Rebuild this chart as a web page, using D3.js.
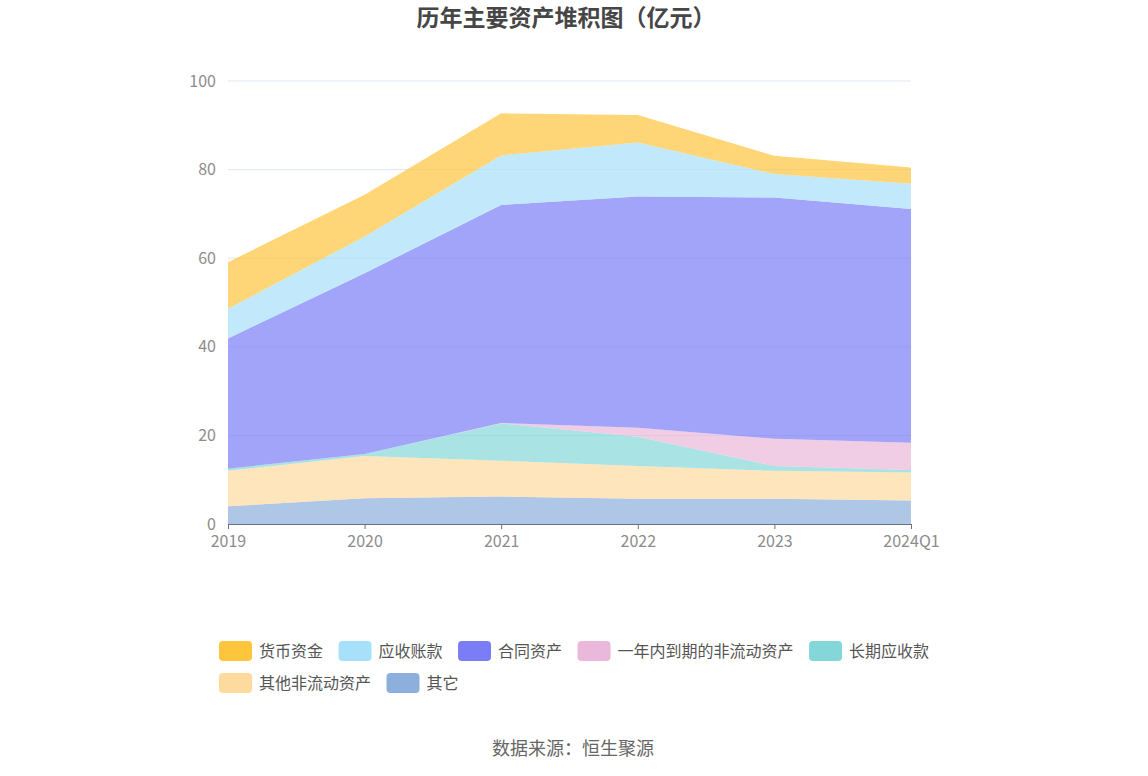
<!DOCTYPE html>
<html><head><meta charset="utf-8">
<script src="https://cdn.jsdelivr.net/npm/d3@7/dist/d3.min.js"></script>
<style>
body{margin:0;background:#fff;font-family:"Noto Sans CJK SC","Noto Sans",sans-serif;}
</style></head>
<body><svg id="c" width="1148" height="776"></svg>
<script>
const categories = ["2019","2020","2021","2022","2023","2024Q1"];
const seriesNames = ["货币资金","应收账款","合同资产","一年内到期的非流动资产","长期应收款","其他非流动资产","其它"];
const huobi   = [10.5, 9.4, 9.5, 6.2, 4.1, 3.7];
const yingshou= [6.7, 8.3, 11.2, 12.2, 5.3, 5.7];
const hetong  = [29.4, 40.8, 49.2, 52.2, 54.45, 52.75];
const yinian  = [0, 0, 0.1, 2.0, 6.15, 6.15];
const changqi = [0.5, 0.45, 8.4, 6.6, 1.1, 0.6];
const qitaFei = [8.0, 9.55, 8.1, 7.4, 6.3, 6.3];
const qita    = [4.0, 5.8, 6.2, 5.7, 5.7, 5.3];
const yTicks = [0,20,40,60,80,100];
const colors = ["#FFC53D","#A6E0FA","#7B7DF6","#EAB8DA","#84D7D9","#FFDA9E","#8DAFDC"];

const seriesValues = [huobi, yingshou, hetong, yinian, changqi, qitaFei, qita];
const rows = categories.map((c,i)=>{const r={cat:c}; seriesNames.forEach((n,j)=>r[n]=seriesValues[j][i]); return r;});
const stackKeys = seriesNames.slice().reverse();
const stacked = d3.stack().keys(stackKeys)(rows);

const svg = d3.select("#c");
const x = d3.scalePoint().domain(categories).range([228, 911]);
const y = d3.scaleLinear().domain([0,100]).range([524, 81]);

svg.append("g").selectAll("line").data(yTicks.filter(t=>t>0)).join("line")
  .attr("x1",228).attr("x2",911).attr("y1",d=>y(d)).attr("y2",d=>y(d))
  .attr("stroke","#E0E6F1").attr("stroke-width",1);

const area = d3.area().x(d=>x(d.data.cat)).y0(d=>y(d[0])).y1(d=>y(d[1]));
svg.append("g").selectAll("path").data(stacked).join("path")
  .attr("d",area)
  .attr("fill",d=>colors[seriesNames.indexOf(d.key)])
  .attr("fill-opacity",0.7);

const ya = svg.append("g").attr("transform","translate(228,0)")
  .call(d3.axisLeft(y).tickValues(yTicks).tickSize(0).tickPadding(12));
ya.select(".domain").remove();
ya.selectAll("text").attr("font-size",16).attr("fill","#8C8C8C").attr("font-family","'Noto Sans CJK SC',sans-serif");

const xa = svg.append("g").attr("transform","translate(0,524)")
  .call(d3.axisBottom(x).tickSize(5).tickPadding(7));
xa.select(".domain").attr("stroke","#6E7079");
xa.selectAll("line").attr("stroke","#6E7079");
xa.selectAll("text").attr("font-size",16).attr("fill","#8C8C8C").attr("font-family","'Noto Sans CJK SC',sans-serif");

svg.append("text").attr("x",566).attr("y",26).attr("text-anchor","middle")
  .attr("font-size",23).attr("font-weight","bold").attr("fill","#464646")
  .text("历年主要资产堆积图（亿元）");

const lg = svg.append("g");
let lx = 219, ly = 641;
const maxX = 945;
seriesNames.forEach((n,i)=>{
  const g = lg.append("g");
  g.append("rect").attr("width",33).attr("height",20).attr("rx",4).attr("fill",colors[i]);
  const t = g.append("text").attr("x",40).attr("y",16).attr("font-size",16).attr("fill","#555").text(n);
  const w = 40 + t.node().getComputedTextLength();
  if (lx + w > maxX) { lx = 219; ly += 32; }
  g.attr("transform",`translate(${lx},${ly})`);
  lx += w + 15.5;
});

svg.append("text").attr("x",573).attr("y",755).attr("text-anchor","middle")
  .attr("font-size",18).attr("fill","#666").text("数据来源：恒生聚源");
</script></body></html>
